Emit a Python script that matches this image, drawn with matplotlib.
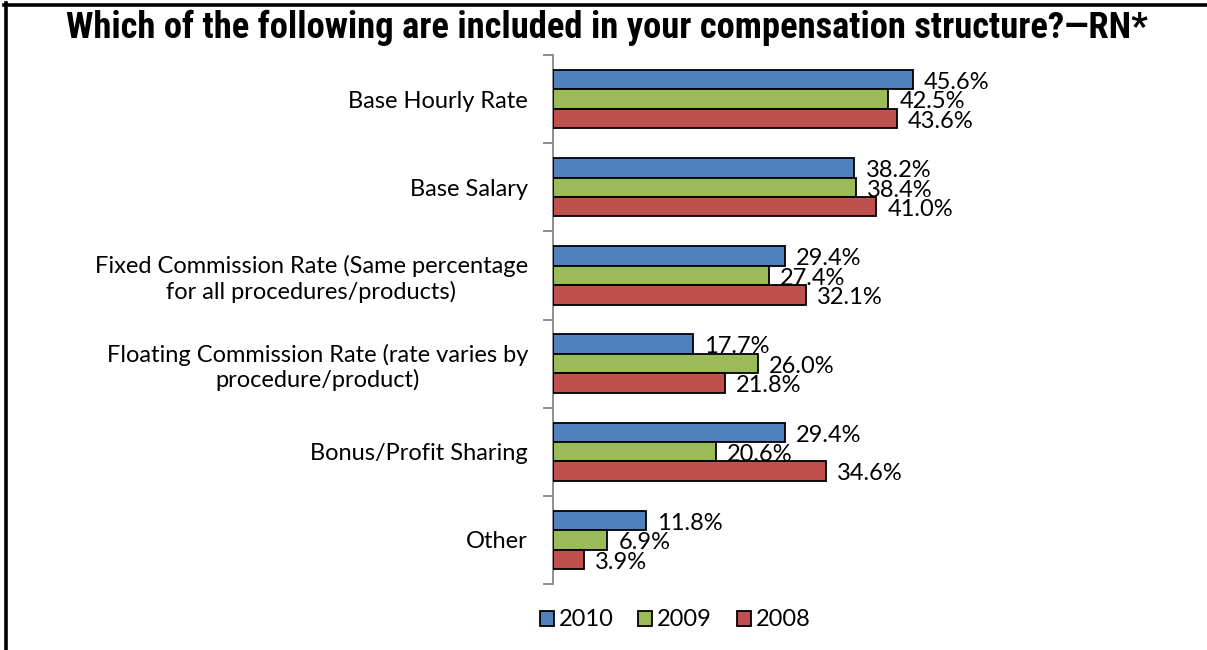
import matplotlib
matplotlib.use('Agg')
import matplotlib.pyplot as plt
from matplotlib.patches import Patch
from matplotlib.lines import Line2D
import numpy as np

''' data '''
categories = ['Base Hourly Rate',
              'Base Salary',
              'Fixed Commission Rate (Same percentage\nfor all procedures/products)',
              'Floating Commission Rate (rate varies by\nprocedure/product)',
              'Bonus/Profit Sharing',
              'Other']
years = ['2010', '2009', '2008']
pct_2010 = [45.6, 38.2, 29.4, 17.7, 29.4, 11.8]
pct_2009 = [42.5, 38.4, 27.4, 26.0, 20.6, 6.9]
pct_2008 = [43.6, 41.0, 32.1, 21.8, 34.6, 3.9]

colors = ['#4F81BD', '#9BBB59', '#C0504D']
body_font = ['Lato', 'DejaVu Sans']
title_font = ['Roboto Condensed', 'DejaVu Sans Condensed', 'Liberation Sans', 'DejaVu Sans']
fs = 17

fig = plt.figure(figsize=(12.07, 6.5), dpi=100)
ax = fig.add_axes([553/1207, 66/650, 394.5/1207, 529/650])

bar_h = 0.22
y = np.arange(len(categories))
for k, (vals, c) in enumerate(zip([pct_2010, pct_2009, pct_2008], colors)):
    ypos = y + (k - 1) * bar_h
    ax.barh(ypos, vals, height=bar_h, color=c, edgecolor='black', linewidth=1.3, zorder=3)
    for yy, v in zip(ypos, vals):
        ax.annotate('{:.1f}%'.format(v), (v, yy), xytext=(8, -2), textcoords='offset points',
                    va='center', ha='left', fontsize=fs, family=body_font, zorder=2,
                    annotation_clip=False)

ax.set_xlim(0, 50)
ax.set_ylim(len(categories) - 0.5, -0.5)

# category axis: only the left spine with boundary ticks
for s in ['top', 'right', 'bottom']:
    ax.spines[s].set_visible(False)
ax.spines['left'].set_color('#868686')
ax.spines['left'].set_linewidth(1.3)
ax.set_xticks([])
ax.set_yticks(y)
ax.set_yticklabels(categories, fontsize=fs, family=body_font, multialignment='center')
ax.tick_params(axis='y', which='major', length=0, pad=18)
ax.set_yticks(np.arange(-0.5, len(categories)), minor=True)
ax.tick_params(axis='y', which='minor', length=7, width=1.3, color='#868686', direction='out')

title = fig.text(0.503, 0.957, 'Which of the following are included in your compensation structure?\u2014RN*',
                 ha='center', va='center', fontsize=25, fontweight='bold', family=title_font)
# size the title to the available width
renderer = fig.canvas.get_renderer()
w = title.get_window_extent(renderer).width
title.set_fontsize(min(27, 25 * 1085 / w))

handles = [Patch(facecolor=c, edgecolor='black', linewidth=1.3) for c in colors]
fig.legend(handles, years, loc='center', bbox_to_anchor=(675/1207, 1 - 620/650), ncol=3,
           frameon=False, prop={'family': body_font, 'size': fs},
           handlelength=0.6, handleheight=0.6, handletextpad=0.2, columnspacing=1.05)

# frame lines along the left and top edges
fig.add_artist(Line2D([5.5/1207, 5.5/1207], [0, 1 - 3/650], color='black', linewidth=2.6,
                      transform=fig.transFigure))
fig.add_artist(Line2D([4/1207, 1], [1 - 4.5/650, 1 - 4.5/650], color='black', linewidth=2.6,
                      transform=fig.transFigure))

fig.savefig('out.png', dpi=100)
